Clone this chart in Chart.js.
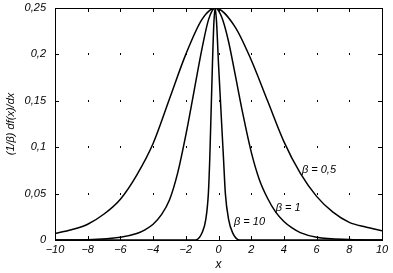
<!DOCTYPE html>
<html>
<head>
<meta charset="utf-8">
<script src="https://cdn.jsdelivr.net/npm/chart.js@4.4.1/dist/chart.umd.min.js"></script>
<style>
  html, body { margin: 0; padding: 0; background: #fff; }
  #wrap { width: 393px; height: 273px; }
</style>
</head>
<body>
<div id="wrap"><canvas id="c"></canvas></div>
<script>
// values
const beta05X = [-10, -9, -8, -7, -6, -5, -4, -3, -2, -1, -0.2, 1, 2, 3, 4, 5, 6, 7, 8, 9, 10];
const beta05Y = [0.007, 0.011, 0.017, 0.028, 0.044, 0.07, 0.104, 0.152, 0.2, 0.238, 0.25, 0.23, 0.194, 0.15, 0.106, 0.072, 0.047, 0.03, 0.019, 0.014, 0.01];

const beta1X = [-10, -8, -6, -5, -4.5, -4, -3.5, -3, -2.5, -2, -1.5, -1, -0.6, -0.2, 0.2, 0.6, 1, 1.5, 2, 2.5, 3, 3.5, 4, 4.5, 5, 6, 8, 10];
const beta1Y = [0, 0.0004, 0.003, 0.007, 0.011, 0.017, 0.027, 0.043, 0.072, 0.113, 0.16, 0.207, 0.238, 0.25, 0.24, 0.215, 0.18, 0.135, 0.095, 0.065, 0.045, 0.03, 0.02, 0.013, 0.008, 0.003, 0.0005, 0];

const beta10X = [-10, -1.4, -1.0, -0.78, -0.62, -0.53, -0.37, -0.28, -0.2, -0.12, 0.0, 0.3, 0.42, 0.62, 0.86, 1.28, 10];
const beta10Y = [0, 0, 0.008, 0.022, 0.05, 0.09, 0.19, 0.235, 0.25, 0.235, 0.19, 0.09, 0.05, 0.022, 0.008, 0, 0];

const xTickValues = [-10, -8, -6, -4, -2, 0, 2, 4, 6, 8, 10];
const yTickValues = [0, 0.05, 0.1, 0.15, 0.2, 0.25];

// curve labels: [text, x, y] in data units
const curveLabels = [
  ['β = 0,5', 5.1, 0.076],
  ['β = 1', 3.5, 0.035],
  ['β = 10', 0.95, 0.02]
];

function pts(xs, ys) {
  return xs.map((x, i) => ({ x: x, y: ys[i] }));
}

function fmt(v) {
  return String(+v.toFixed(2)).replace('.', ',').replace('-', '\u2212');
}

const ink = '#000';
const tickFont = { family: '"Liberation Sans", Arial, sans-serif', size: 11, style: 'italic' };

// box, inner ticks, dotted grid and curve labels
const boxPlugin = {
  id: 'box',
  afterDraw(chart) {
    const ctx = chart.ctx;
    const a = chart.chartArea;
    const xs = chart.scales.x, ys = chart.scales.y;
    ctx.save();
    ctx.strokeStyle = ink;
    ctx.lineWidth = 1;
    ctx.strokeRect(Math.round(a.left) + 0.5, Math.round(a.top) + 0.5,
      Math.round(a.right - a.left), Math.round(a.bottom - a.top));

    ctx.beginPath();
    xTickValues.forEach(v => {
      const px = Math.round(xs.getPixelForValue(v)) + 0.5;
      ctx.moveTo(px, a.bottom); ctx.lineTo(px, a.bottom - 4);
      ctx.moveTo(px, a.top); ctx.lineTo(px, a.top + 4);
    });
    yTickValues.forEach(v => {
      const py = Math.round(ys.getPixelForValue(v)) + 0.5;
      ctx.moveTo(a.left, py); ctx.lineTo(a.left + 4, py);
      ctx.moveTo(a.right, py); ctx.lineTo(a.right - 4, py);
    });
    ctx.stroke();

    // grid dots at intersections
    ctx.fillStyle = ink;
    xTickValues.slice(1, -1).forEach(xv => {
      yTickValues.slice(1, -1).forEach(yv => {
        const px = Math.round(xs.getPixelForValue(xv));
        const py = Math.round(ys.getPixelForValue(yv));
        ctx.fillRect(px, py - 1, 1, 2);
      });
    });

    ctx.font = 'italic 11px "Liberation Sans", Arial, sans-serif';
    ctx.textAlign = 'left';
    ctx.textBaseline = 'middle';
    curveLabels.forEach(l => {
      ctx.fillText(l[0], xs.getPixelForValue(l[1]), ys.getPixelForValue(l[2]));
    });
    ctx.restore();
  }
};

const lineStyle = {
  borderColor: ink,
  borderWidth: 1.5,
  pointRadius: 0,
  showLine: true,
  fill: false,
  cubicInterpolationMode: 'monotone'
};

new Chart(document.getElementById('c'), {
  type: 'scatter',
  data: {
    datasets: [
      Object.assign({ label: 'β = 0,5', data: pts(beta05X, beta05Y) }, lineStyle),
      Object.assign({ label: 'β = 1', data: pts(beta1X, beta1Y) }, lineStyle),
      Object.assign({ label: 'β = 10', data: pts(beta10X, beta10Y) }, lineStyle)
    ]
  },
  options: {
    responsive: true,
    maintainAspectRatio: false,
    animation: false,
    layout: { padding: { top: 0, right: 11, left: 0, bottom: 0 } },
    plugins: {
      legend: { display: false },
      tooltip: { enabled: false }
    },
    scales: {
      x: {
        type: 'linear',
        min: -10,
        max: 10,
        afterBuildTicks: s => { s.ticks = xTickValues.map(v => ({ value: v })); },
        afterFit: s => { s.height = 33; },
        grid: { display: false, drawTicks: false },
        border: { display: false },
        ticks: { color: ink, font: tickFont, padding: 3, maxRotation: 0, callback: fmt },
        title: {
          display: true,
          text: 'x',
          color: ink,
          font: { family: '"Liberation Sans", Arial, sans-serif', size: 12, style: 'italic' },
          padding: { top: 0, bottom: 1 }
        }
      },
      y: {
        min: 0,
        max: 0.25,
        afterBuildTicks: s => { s.ticks = yTickValues.map(v => ({ value: v })); },
        afterFit: s => { s.width = 55; s.paddingTop = 8; },
        grid: { display: false, drawTicks: false },
        border: { display: false },
        ticks: { color: ink, font: tickFont, padding: 9, callback: fmt },
        title: {
          display: true,
          text: '(1/β) df(x)/dx',
          color: ink,
          font: { family: '"Liberation Sans", Arial, sans-serif', size: 11, style: 'italic' },
          padding: { top: 4, bottom: 0 }
        }
      }
    }
  },
  plugins: [boxPlugin]
});
</script>
</body>
</html>
